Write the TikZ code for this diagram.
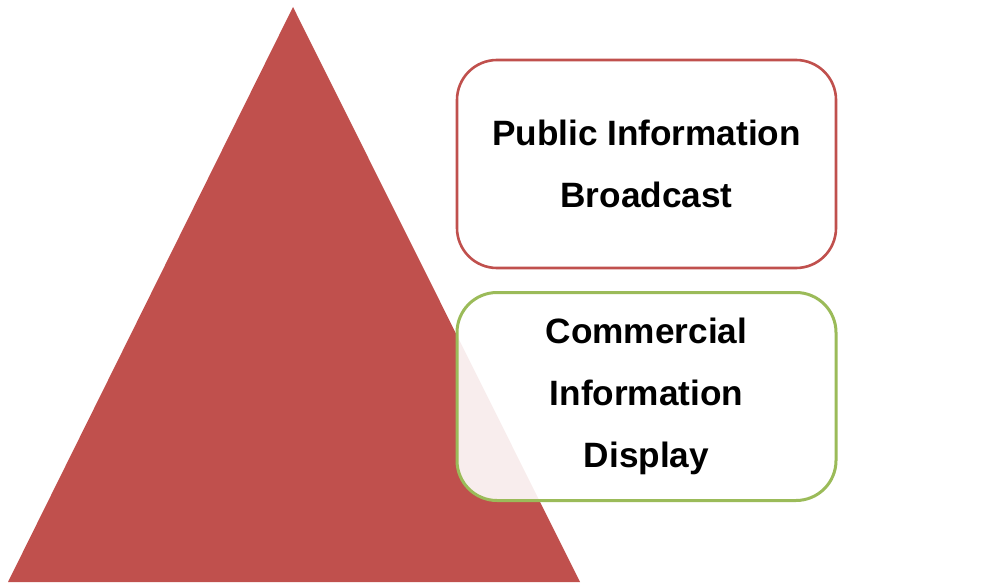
\documentclass[tikz,border=0pt]{standalone}
\usepackage{fontspec}
\setmainfont{Liberation Sans}
\definecolor{tri}{HTML}{C0504D}
\definecolor{boxred}{HTML}{C0504D}
\definecolor{boxgreen}{HTML}{9BBB59}
\tikzset{
  infobox/.style={draw, line width=2.6pt, rounded corners=40pt, fill=white,
    minimum width=379pt, minimum height=208pt, align=center,
    font=\fontsize{35.2}{62}\selectfont\bfseries}
}
\begin{document}
\begin{tikzpicture}[x=1pt,y=-1pt]

  % Frame
  \useasboundingbox (0,0) rectangle (1000,588);

  % Triangle
  \fill[tri] (293,7) -- (580,582) -- (8,582) -- cycle;

  % Boxes
  \node[infobox, draw=boxred] (public) at (646.5,164) {Public Information\\Broadcast};
  \node[infobox, draw=boxgreen, line width=3pt, fill opacity=0.9, text opacity=1]
    (commercial) at (646.5,396.5) {Commercial\\Information\\Display};

\end{tikzpicture}
\end{document}
